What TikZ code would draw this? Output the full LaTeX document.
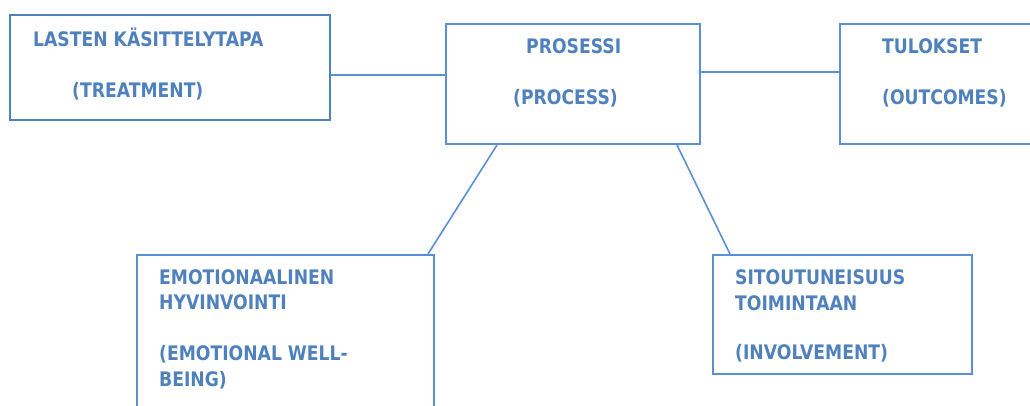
\documentclass[tikz,border=0pt]{standalone}
\usepackage{fontspec}
\setmainfont[FakeStretch=0.86]{DejaVu Sans}
\definecolor{textblue}{HTML}{4F81BD}
\definecolor{treatblue}{HTML}{4F81BD}
\definecolor{lineblue}{HTML}{5B8FD6}
\tikzset{
  box/.style 2 args={draw=lineblue,line width=2pt,inner sep=0pt,
    minimum width=#1,minimum height=#2},
  txt/.style={text=textblue,font=\fontsize{20}{25.5}\selectfont\bfseries,
    align=left,anchor=base west,inner sep=0pt},
  link/.style={draw=lineblue,line width=1.6pt}
}
\begin{document}
\begin{tikzpicture}[x=1pt,y=-1pt]
  \clip (0,0) rectangle (1030,406);
  % boxes
  \node[box={320pt}{105pt},draw=treatblue,line width=2.8pt] (treat) at (170,67.5) {};
  \node[box={254pt}{120pt}] (proc) at (573,84) {};
  \node[box={220pt}{120pt}] (outc) at (950,84) {};
  \node[box={297pt}{180pt}] (emot) at (285.5,345) {};
  \node[box={259pt}{119pt}] (invo) at (842.5,314.5) {};
  % texts (anchored at the baseline of the last line)
  \node[txt] (treatT) at (33,98) {LASTEN KÄSITTELYTAPA\\[25.5pt]\hspace*{39pt}(TREATMENT)};
  \node[txt] (procT) at (513,105) {\hspace*{13pt}PROSESSI\\[25.5pt](PROCESS)};
  \node[txt] (outcT) at (882,105) {TULOKSET\\[25.5pt](OUTCOMES)};
  \node[txt] (emotT) at (159,386) {EMOTIONAALINEN\\HYVINVOINTI\\[25.5pt](EMOTIONAL WELL-\\BEING)};
  \node[txt] (invoT) at (735,359) {SITOUTUNEISUUS\\TOIMINTAAN\\[23.5pt](INVOLVEMENT)};
  % connectors
  \draw[link] ([yshift=-7.5pt]treat.east) -- ([yshift=9pt]proc.west);
  \draw[link] ([yshift=12pt]proc.east) -- ([yshift=12pt]outc.west);
  \draw[link] ([xshift=-76pt]proc.south) -- ([xshift=142.5pt]emot.north);
  \draw[link] ([xshift=104pt]proc.south) -- ([xshift=-112.5pt]invo.north);
\end{tikzpicture}
\end{document}
